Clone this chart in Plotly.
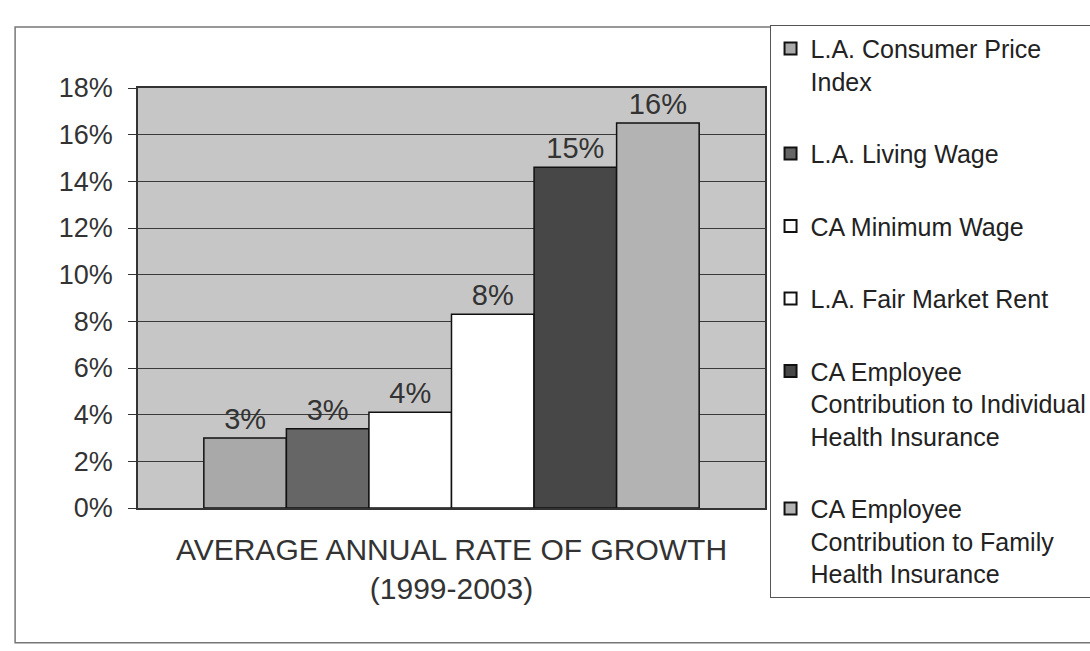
import plotly.graph_objects as go

# ---- data ----
category = ["AVERAGE ANNUAL RATE OF GROWTH<br>(1999-2003)"]
series_names = [
    "L.A. Consumer Price<br>Index",
    "L.A. Living Wage",
    "CA Minimum Wage",
    "L.A. Fair Market Rent",
    "CA Employee<br>Contribution to Individual<br>Health Insurance",
    "CA Employee<br>Contribution to Family<br>Health Insurance",
]
growth_pct = [3.0, 3.4, 4.1, 8.3, 14.6, 16.5]
value_labels = ["3%", "3%", "4%", "8%", "15%", "16%"]
y_ticks = [0, 2, 4, 6, 8, 10, 12, 14, 16, 18]

# ---- styles ----
bar_colors = ["#a9a9a9", "#666666", "#ffffff", "#ffffff", "#474747", "#b3b3b3"]
FONT = "Arial, Liberation Sans, sans-serif"

fig = go.Figure()
for i, name in enumerate(series_names):
    fig.add_trace(go.Bar(
        x=category,
        y=[growth_pct[i]],
        name=name,
        legendgroup=f"g{i}",
        marker=dict(color=bar_colors[i], line=dict(color="#111111", width=1.5)),
        text=[value_labels[i]],
        textposition="outside",
        textfont=dict(family=FONT, size=29, color="#333333"),
        cliponaxis=False,
    ))

fig.update_layout(
    width=1090, height=651,
    margin=dict(l=138, r=325, t=88, b=143, autoexpand=False),
    paper_bgcolor="white",
    plot_bgcolor="#c6c6c6",
    barmode="group",
    bargap=0.21,
    bargroupgap=0,
    font=dict(family=FONT, color="#222222"),
    showlegend=True,
    legend=dict(
        xref="container", yref="container",
        x=0.706, xanchor="left",
        y=0.962, yanchor="top",
        bgcolor="white",
        bordercolor="#555555", borderwidth=1,
        font=dict(family=FONT, size=25, color="#222222"),
        tracegroupgap=37,
        valign="top",
        itemsizing="constant",
        maxheight=640,
    ),
    xaxis=dict(
        showticklabels=False,
        showline=True, linecolor="#333333", linewidth=1.5, mirror=True,
        title=dict(text=category[0], font=dict(family=FONT, size=30, color="#333333"), standoff=30),
    ),
    yaxis=dict(
        range=[0, 18],
        tickvals=y_ticks,
        ticktext=[f"{v}%" for v in y_ticks],
        tickfont=dict(family=FONT, size=27, color="#333333"),
        showgrid=True, gridcolor="#3a3a3a", gridwidth=1,
        showline=True, linecolor="#333333", linewidth=1.5, mirror=True,
        ticks="outside", ticklen=8, tickcolor="#333333",
        ticklabelstandoff=10,
        zeroline=False,
    ),
    shapes=[
        dict(type="rect", xref="paper", yref="paper",
             x0=-0.196, x1=1.53, y0=-0.321, y1=1.145,
             line=dict(color="#777777", width=1.5), fillcolor="rgba(0,0,0,0)", layer="below"),
    ],
)

fig.write_html("out.html")
